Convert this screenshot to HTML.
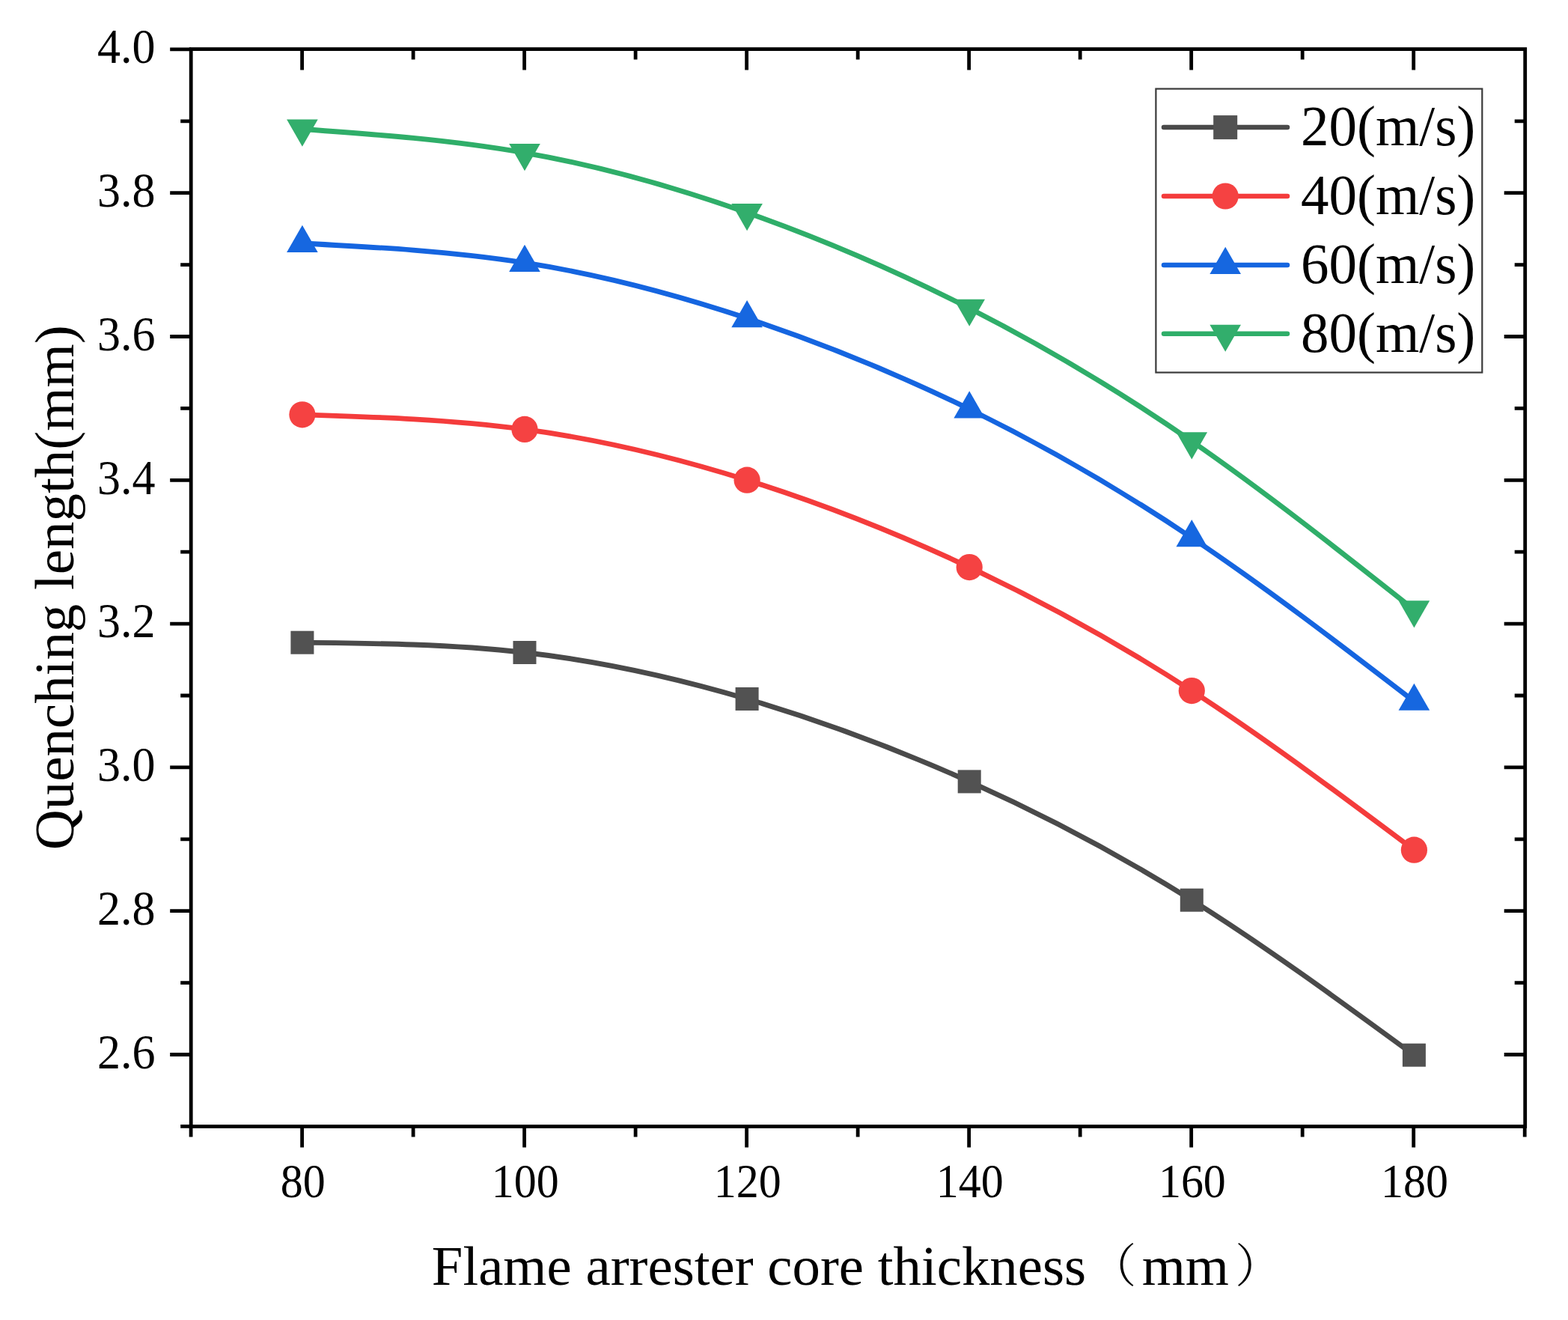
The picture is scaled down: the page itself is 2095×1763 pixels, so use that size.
<!DOCTYPE html>
<html><head><meta charset="utf-8"><title>Quenching length vs flame arrester core thickness</title>
<style>html,body{margin:0;padding:0;background:#fff;}body{width:2095px;height:1763px;overflow:hidden;}svg{display:block;}text{font-family:"Liberation Serif","Noto Serif CJK SC",serif;fill:#000;}</style>
</head><body>
<svg width="2095" height="1763" viewBox="0 0 2095 1763">
<rect x="0" y="0" width="2095" height="1763" fill="#fff"/>
<path d="M241.2,1504.4H255.2M227.2,1408.5H255.2M2009.7,1408.5H2037.7M241.2,1312.6H255.2M2023.7,1312.6H2037.7M227.2,1216.7H255.2M2009.7,1216.7H2037.7M241.2,1120.8H255.2M2023.7,1120.8H2037.7M227.2,1024.9H255.2M2009.7,1024.9H2037.7M241.2,929H255.2M2023.7,929H2037.7M227.2,833.1H255.2M2009.7,833.1H2037.7M241.2,737.2H255.2M2023.7,737.2H2037.7M227.2,641.3H255.2M2009.7,641.3H2037.7M241.2,545.4H255.2M2023.7,545.4H2037.7M227.2,449.5H255.2M2009.7,449.5H2037.7M241.2,353.6H255.2M2023.7,353.6H2037.7M227.2,257.7H255.2M2009.7,257.7H2037.7M241.2,161.8H255.2M2023.7,161.8H2037.7M227.2,65.9H255.2M255.09,1504.5V1518.5M403.6,1504.5V1532.5M403.6,65.6V93.6M552.11,1504.5V1518.5M552.11,65.6V79.6M700.62,1504.5V1532.5M700.62,65.6V93.6M849.13,1504.5V1518.5M849.13,65.6V79.6M997.64,1504.5V1532.5M997.64,65.6V93.6M1146.15,1504.5V1518.5M1146.15,65.6V79.6M1294.66,1504.5V1532.5M1294.66,65.6V93.6M1443.17,1504.5V1518.5M1443.17,65.6V79.6M1591.68,1504.5V1532.5M1591.68,65.6V93.6M1740.19,1504.5V1518.5M1740.19,65.6V79.6M1888.7,1504.5V1532.5M1888.7,65.6V93.6M2037.21,1504.5V1518.5" stroke="#000" stroke-width="4.8" fill="none"/>
<rect x="255.2" y="65.6" width="1782.5" height="1438.9" stroke="#000" stroke-width="4.8" fill="none" stroke-linejoin="miter"/>
<text transform="translate(207.6,1426.7) scale(1,1.04)" font-size="62" text-anchor="end">2.6</text>
<text transform="translate(207.6,1234.9) scale(1,1.04)" font-size="62" text-anchor="end">2.8</text>
<text transform="translate(207.6,1043.1) scale(1,1.04)" font-size="62" text-anchor="end">3.0</text>
<text transform="translate(207.6,851.3) scale(1,1.04)" font-size="62" text-anchor="end">3.2</text>
<text transform="translate(207.6,659.5) scale(1,1.04)" font-size="62" text-anchor="end">3.4</text>
<text transform="translate(207.6,467.7) scale(1,1.04)" font-size="62" text-anchor="end">3.6</text>
<text transform="translate(207.6,275.9) scale(1,1.04)" font-size="62" text-anchor="end">3.8</text>
<text transform="translate(207.6,84.1) scale(1,1.04)" font-size="62" text-anchor="end">4.0</text>
<text transform="translate(404.8,1598.6) scale(1,1.04)" font-size="60" text-anchor="middle">80</text>
<text transform="translate(701.82,1598.6) scale(1,1.04)" font-size="60" text-anchor="middle">100</text>
<text transform="translate(998.84,1598.6) scale(1,1.04)" font-size="60" text-anchor="middle">120</text>
<text transform="translate(1295.86,1598.6) scale(1,1.04)" font-size="60" text-anchor="middle">140</text>
<text transform="translate(1592.88,1598.6) scale(1,1.04)" font-size="60" text-anchor="middle">160</text>
<text transform="translate(1889.9,1598.6) scale(1,1.04)" font-size="60" text-anchor="middle">180</text>
<text x="576.8" y="1715.5" font-size="74.8">Flame arrester core thickness<tspan font-family="Liberation Serif, Noto Serif CJK SC, serif" font-weight="300" font-size="62" dx="5" dy="-3">（</tspan><tspan dx="7.5" dy="3">mm</tspan><tspan font-family="Liberation Serif, Noto Serif CJK SC, serif" font-weight="300" font-size="62" dx="8.25" dy="-3">）</tspan></text>
<text transform="translate(98.4,1135.3) rotate(-90)" x="0" y="0" font-size="74.9">Quenching length(mm)</text>
<path d="M403.9,858.2C502.93,859.21 601.97,860.23 701,871.5C800.03,882.77 899.07,904.3 998.1,933.5C1097.13,962.7 1196.17,999.56 1295.2,1043.9C1394.23,1088.24 1493.27,1140.07 1592.3,1202.2C1691.33,1264.33 1790.37,1336.77 1889.4,1409.2" stroke="#4a4a4a" stroke-width="6.8" fill="none" stroke-linejoin="round"/>
<path d="M403.9,553.8C502.93,556.96 601.97,560.11 701,573.4C800.03,586.69 899.07,610.1 998.1,641.2C1097.13,672.3 1196.17,711.08 1295.2,757.6C1394.23,804.12 1493.27,858.38 1592.3,922.6C1691.33,986.82 1790.37,1061.01 1889.4,1135.2" stroke="#f43c3c" stroke-width="6.8" fill="none" stroke-linejoin="round"/>
<path d="M403.9,325C502.93,330.2 601.97,335.41 701,350.9C800.03,366.39 899.07,392.18 998.1,425.1C1097.13,458.02 1196.17,498.07 1295.2,546.5C1394.23,594.93 1493.27,651.75 1592.3,718.2C1691.33,784.65 1790.37,860.72 1889.4,936.8" stroke="#1565e0" stroke-width="6.8" fill="none" stroke-linejoin="round"/>
<path d="M403.9,172.5C502.93,179.62 601.97,186.74 701,204.1C800.03,221.46 899.07,249.06 998.1,284C1097.13,318.94 1196.17,361.23 1295.2,411.7C1394.23,462.17 1493.27,520.82 1592.3,589.3C1691.33,657.78 1790.37,736.09 1889.4,814.4" stroke="#2fae69" stroke-width="6.8" fill="none" stroke-linejoin="round"/>
<rect x="388.4" y="842.7" width="31" height="31" fill="#525252"/>
<rect x="685.5" y="856" width="31" height="31" fill="#525252"/>
<rect x="982.6" y="918" width="31" height="31" fill="#525252"/>
<rect x="1279.7" y="1028.4" width="31" height="31" fill="#525252"/>
<rect x="1576.8" y="1186.7" width="31" height="31" fill="#525252"/>
<rect x="1873.9" y="1393.7" width="31" height="31" fill="#525252"/>
<circle cx="403.9" cy="553.8" r="17.6" fill="#f54242"/>
<circle cx="701" cy="573.4" r="17.6" fill="#f54242"/>
<circle cx="998.1" cy="641.2" r="17.6" fill="#f54242"/>
<circle cx="1295.2" cy="757.6" r="17.6" fill="#f54242"/>
<circle cx="1592.3" cy="922.6" r="17.6" fill="#f54242"/>
<circle cx="1889.4" cy="1135.2" r="17.6" fill="#f54242"/>
<polygon points="403.9,300.87 424.7,337.07 383.1,337.07" fill="#1667e0"/>
<polygon points="701,326.77 721.8,362.97 680.2,362.97" fill="#1667e0"/>
<polygon points="998.1,400.97 1018.9,437.17 977.3,437.17" fill="#1667e0"/>
<polygon points="1295.2,522.37 1316,558.57 1274.4,558.57" fill="#1667e0"/>
<polygon points="1592.3,694.07 1613.1,730.27 1571.5,730.27" fill="#1667e0"/>
<polygon points="1889.4,912.67 1910.2,948.87 1868.6,948.87" fill="#1667e0"/>
<polygon points="383.1,159.43 424.7,159.43 403.9,195.63" fill="#32ae6c"/>
<polygon points="680.2,192.03 721.8,192.03 701,228.23" fill="#32ae6c"/>
<polygon points="977.3,271.93 1018.9,271.93 998.1,308.13" fill="#32ae6c"/>
<polygon points="1274.4,399.63 1316,399.63 1295.2,435.83" fill="#32ae6c"/>
<polygon points="1571.5,577.23 1613.1,577.23 1592.3,613.43" fill="#32ae6c"/>
<polygon points="1868.6,802.33 1910.2,802.33 1889.4,838.53" fill="#32ae6c"/>
<rect x="1544.4" y="118.6" width="435.9" height="378.9" fill="#fff" stroke="#3a3a3a" stroke-width="2.2"/>
<path d="M1555,170.1H1720" stroke="#4a4a4a" stroke-width="6.5" stroke-linecap="round" fill="none"/>
<rect x="1621.2" y="154.1" width="32" height="32" fill="#525252"/>
<text transform="translate(1738,194.4) scale(1,1.02)" font-size="75">20(m/s)</text>
<path d="M1555,262H1720" stroke="#f43c3c" stroke-width="6.5" stroke-linecap="round" fill="none"/>
<circle cx="1637.2" cy="262" r="17.6" fill="#f54242"/>
<text transform="translate(1738,286.3) scale(1,1.02)" font-size="75">40(m/s)</text>
<path d="M1555,353.9H1720" stroke="#1565e0" stroke-width="6.5" stroke-linecap="round" fill="none"/>
<polygon points="1637.2,329.77 1658,365.97 1616.4,365.97" fill="#1667e0"/>
<text transform="translate(1738,378.2) scale(1,1.02)" font-size="75">60(m/s)</text>
<path d="M1555,445.7H1720" stroke="#2fae69" stroke-width="6.5" stroke-linecap="round" fill="none"/>
<polygon points="1616.4,433.63 1658,433.63 1637.2,469.83" fill="#32ae6c"/>
<text transform="translate(1738,470) scale(1,1.02)" font-size="75">80(m/s)</text>
</svg>
</body></html>
